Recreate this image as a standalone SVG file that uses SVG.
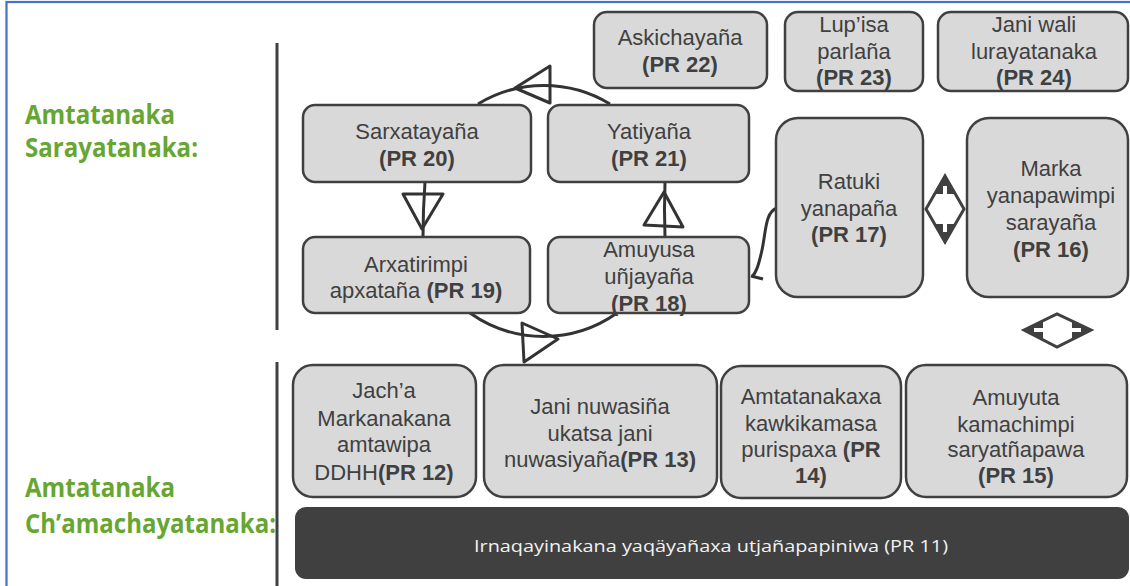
<svg xmlns="http://www.w3.org/2000/svg" width="1130" height="586" viewBox="0 0 1130 586">
<style>
.node rect{fill:#d9d9d9;stroke:#404040;stroke-width:2.5}
.node text{font-family:"Liberation Sans",Arial,sans-serif;font-size:22px;fill:#404040;text-anchor:middle}
.b{font-weight:bold}
.lbl{font-family:"Open Sans","Noto Sans",sans-serif;font-weight:bold;font-size:26px;fill:#67a630}
.conn path,.conn line,.conn polygon{fill:none;stroke:#333;stroke-width:3;stroke-linejoin:round}
.dbl .o{fill:#fff;stroke:#404040;stroke-width:3;stroke-linejoin:miter}
.dbl .t{fill:#404040;stroke:none}
.dbl .s{fill:#fff;stroke:none}
</style>
<rect width="1130" height="586" fill="#fff"/>
<rect x="6.5" y="2" width="1200" height="700" fill="none" stroke="#4472c4" stroke-width="2.2"/>
<line x1="277" y1="43" x2="277" y2="330" stroke="#404040" stroke-width="3"/>
<line x1="277" y1="362" x2="277" y2="586" stroke="#404040" stroke-width="3"/>

<g id="label-top">
<text class="lbl" x="25" y="124" textLength="150" lengthAdjust="spacingAndGlyphs">Amtatanaka</text>
<text class="lbl" x="25" y="157" textLength="173" lengthAdjust="spacingAndGlyphs">Sarayatanaka:</text>
</g>
<g id="label-bottom">
<text class="lbl" x="25" y="497" textLength="150" lengthAdjust="spacingAndGlyphs">Amtatanaka</text>
<text class="lbl" x="25" y="533" textLength="251" lengthAdjust="spacingAndGlyphs">Ch’amachayatanaka:</text>
</g>

<g id="connectors" class="conn">
<path d="M478 104 A127 127 0 0 1 610 104"/>
<polygon points="515,88 550,66 550,103"/>
<path d="M470 313 A127 127 0 0 0 617 313"/>
<polygon points="558,339 522,323 524,362"/>
<path d="M425 182 Q423 210 423 237"/>
<polygon points="403,194 443,194 422,229"/>
<path d="M665 182 Q664 210 665 237"/>
<polygon points="664,192 644,225 683,227"/>
<path d="M777 208 C765 212 766 232 762 250 S756 272 752 277" stroke-width="2.5"/>
<line x1="751" y1="276" x2="763" y2="279" stroke-width="2.5"/>
</g>

<g id="arrow-v" class="dbl">
<polygon class="o" points="945,176 964,209 945,242 926,209"/>
<polygon class="t" points="945,174 956,194 934,194"/>
<polygon class="t" points="945,244 956,224 934,224"/>
<rect class="s" x="943" y="186" width="4" height="9"/>
<rect class="s" x="943" y="223" width="4" height="9"/>
</g>
<g id="arrow-h" class="dbl">
<polygon class="o" points="1024,330 1057,314 1091,330 1057,347"/>
<polygon class="t" points="1022,330 1043,320 1043,340"/>
<polygon class="t" points="1093,330 1072,320 1072,340"/>
<rect class="s" x="1034" y="328" width="9" height="4"/>
<rect class="s" x="1072" y="328" width="9" height="4"/>
</g>

<g id="pr22" class="node"><rect x="594" y="12" width="173" height="76" rx="13"/>
<text x="680" y="45">Askichayaña</text><text x="680" y="72" class="b">(PR 22)</text></g>
<g id="pr23" class="node"><rect x="785" y="12" width="138" height="79" rx="13"/>
<text x="854" y="32">Lup’isa</text><text x="854" y="59">parlaña</text><text x="854" y="85" class="b">(PR 23)</text></g>
<g id="pr24" class="node"><rect x="938" y="12" width="190" height="79" rx="13"/>
<text x="1034" y="32">Jani wali</text><text x="1034" y="59">lurayatanaka</text><text x="1034" y="85" class="b">(PR 24)</text></g>

<g id="pr20" class="node"><rect x="303" y="105" width="228" height="77" rx="12"/>
<text x="417" y="139">Sarxatayaña</text><text x="417" y="166" class="b">(PR 20)</text></g>
<g id="pr21" class="node"><rect x="548" y="105" width="201" height="77" rx="12"/>
<text x="649" y="139">Yatiyaña</text><text x="649" y="166" class="b">(PR 21)</text></g>
<g id="pr19" class="node"><rect x="303" y="237" width="227" height="76" rx="12"/>
<text x="416" y="272">Arxatirimpi</text><text x="416" y="298">apxataña <tspan class="b">(PR 19)</tspan></text></g>
<g id="pr18" class="node"><rect x="548" y="237" width="201" height="76" rx="12"/>
<text x="649" y="257">Amuyusa</text><text x="649" y="284">uñjayaña</text><text x="649" y="311" class="b">(PR 18)</text></g>
<g id="pr17" class="node"><rect x="776" y="118" width="147" height="179" rx="22"/>
<text x="849" y="189">Ratuki</text><text x="849" y="216">yanapaña</text><text x="849" y="242" class="b">(PR 17)</text></g>
<g id="pr16" class="node"><rect x="967" y="118" width="161" height="179" rx="22"/>
<text x="1051" y="176">Marka</text><text x="1051" y="203">yanapawimpi</text><text x="1051" y="230">sarayaña</text><text x="1051" y="257" class="b">(PR 16)</text></g>

<g id="pr12" class="node"><rect x="293" y="365" width="183" height="132" rx="20"/>
<text x="384" y="398">Jach’a</text><text x="384" y="426">Markanakana</text><text x="384" y="452">amtawipa</text><text x="384" y="480">DDHH<tspan class="b">(PR 12)</tspan></text></g>
<g id="pr13" class="node"><rect x="484" y="365" width="233" height="132" rx="20"/>
<text x="600" y="414">Jani nuwasiña</text><text x="600" y="441">ukatsa jani</text><text x="600" y="467">nuwasiyaña<tspan class="b">(PR 13)</tspan></text></g>
<g id="pr14" class="node"><rect x="721" y="366" width="180" height="132" rx="20"/>
<text x="811" y="404">Amtatanakaxa</text><text x="811" y="431">kawkikamasa</text><text x="811" y="457">purispaxa <tspan class="b">(PR</tspan></text><text x="811" y="483" class="b">14)</text></g>
<g id="pr15" class="node"><rect x="906" y="365" width="221" height="132" rx="20"/>
<text x="1016" y="405">Amuyuta</text><text x="1016" y="432">kamachimpi</text><text x="1016" y="457">saryatñapawa</text><text x="1016" y="483" class="b">(PR 15)</text></g>

<g id="pr11"><rect x="295" y="507" width="834" height="72" rx="11" fill="#404040"/>
<text x="711" y="552" text-anchor="middle" font-family="'Open Sans','Noto Sans',sans-serif" font-size="17" fill="#f2f2f2" textLength="474" lengthAdjust="spacingAndGlyphs">Irnaqayinakana yaqäyañaxa utjañapapiniwa (PR 11)</text></g>
</svg>
